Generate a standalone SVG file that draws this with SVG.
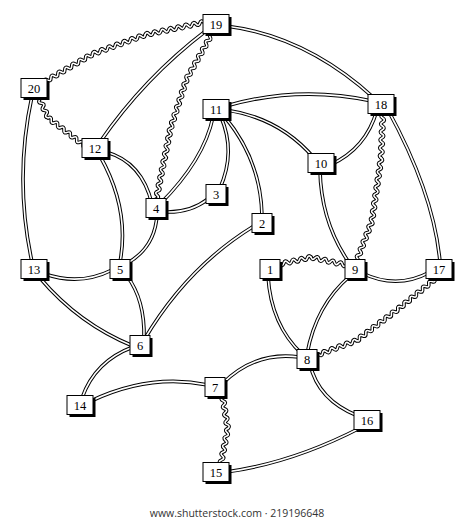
<svg xmlns="http://www.w3.org/2000/svg" xmlns:xlink="http://www.w3.org/1999/xlink" width="474" height="522" viewBox="0 0 474 522">
<style>
.o{fill:none;stroke:#000;stroke-width:3.6}
.i{fill:none;stroke:#fff;stroke-width:1.6}
.w .o,.w .i{stroke-linecap:round}
.sh{fill:#000}
.bx{fill:#fff;stroke:#000;stroke-width:1}
.lb{font-family:"Liberation Serif","DejaVu Serif",serif;font-size:12.5px;text-anchor:middle;fill:#000}
.ft{font-family:"Open Sans","Liberation Sans",sans-serif;font-size:10.5px;text-anchor:middle;fill:#333}
</style>
<defs>
<path id="e19_12" d="M207,30 Q144,78 100,142"/>
<path id="e19_18" d="M226,26 Q306,36 374,98"/>
<path id="e20_13" d="M32,96 Q14,179 32,262"/>
<path id="e12_4" d="M106,152 Q142,162 152,204"/>
<path id="e12_5" d="M100,156 Q130,209 120,262"/>
<path id="e11_4" d="M213,117 Q204,160 160,204"/>
<path id="e11_3" d="M221,117 Q236,152 220,188"/>
<path id="e11_2" d="M224,116 Q261,160 262,216"/>
<path id="e11_18" d="M226,106 Q299,85 372,101"/>
<path id="e11_10" d="M226,110 Q280,118 314,158"/>
<path id="e18_10" d="M377,110 Q366,149 330,165"/>
<path id="e18_17" d="M388,110 Q434,194 440,262"/>
<path id="e10_9" d="M320,170 Q321,223 350,264"/>
<path id="e4_3" d="M165,212 Q190,213 208,199"/>
<path id="e4_5" d="M157,215 Q155,248 126,264"/>
<path id="e13_5" d="M45,274 Q80,286 112,270"/>
<path id="e13_6" d="M40,278 Q79,324 133,346"/>
<path id="e5_6" d="M127,276 Q145,300 144,338"/>
<path id="e2_6" d="M254,226 Q187,267 144,340"/>
<path id="e6_14" d="M133,347 Q95,361 82,398"/>
<path id="e1_8" d="M268,276 Q271,325 302,354"/>
<path id="e9_8" d="M350,276 Q316,305 307,354"/>
<path id="e9_17" d="M362,273 Q397,290 430,272"/>
<path id="e8_7" d="M299,357 Q255,351 222,384"/>
<path id="e14_7" d="M91,401 Q150,373 208,385"/>
<path id="e8_16" d="M310,364 Q318,400 358,416"/>
<path id="e15_16" d="M226,472 Q292,463 360,428"/>
<g id="w20_19">
<path transform="translate(44,82) rotate(-30)" d="M0,0q2,-3.5 4,0t4,0t4,0t4,0t4,0t4,0t4,0t4,0t4,0t4,0t4,0t4,0t4,0t4,0"/>
<path transform="translate(92.5,54) rotate(-20)" d="M0,0q2,-3.5 4,0t4,0t4,0t4,0t4,0t4,0t4,0t4,0t4,0t4,0t4,0t4,0t4,0t4,0"/>
<path transform="translate(145.1,34.8) rotate(-12)" d="M0,0q2,-3.5 4,0t4,0t4,0t4,0t4,0t4,0t4,0t4,0t4,0t4,0t4,0t4,0t4,0t4,0t4,0t4,0"/>
</g>
<g id="w19_4">
<path transform="translate(214,30) rotate(119.25)" d="M0,0q2,-3.5 4,0t4,0t4,0t4,0t4,0t4,0t4,0t4,0t4,0t4,0t4,0t4,0t4,0t4,0"/>
<path transform="translate(186.6,78.9) rotate(108)" d="M0,0q2,-3.5 4,0t4,0t4,0t4,0t4,0t4,0t4,0t4,0t4,0t4,0t4,0t4,0t4,0"/>
<path transform="translate(170.5,128.4) rotate(101.4)" d="M0,0q2,3.5 4,0t4,0t4,0t4,0t4,0t4,0t4,0t4,0t4,0t4,0t4,0t4,0t4,0t4,0t4,0t4,0t4,0t4,0t4,0t4,0"/>
</g>
<g id="w20_12">
<path transform="translate(38,96) rotate(65)" d="M0,0q2,-3.5 4,0t4,0t4,0t4,0t4,0t4,0"/>
<path transform="translate(48.1,117.8) rotate(37.4)" d="M0,0q2,-3.5 4,0t4,0t4,0t4,0t4,0t4,0t4,0t4,0t4,0t4,0t4,0t4,0"/>
</g>
<g id="w18_9">
<path transform="translate(383,110) rotate(92.3)" d="M0,0q2,-3.5 4,0t4,0t4,0t4,0t4,0t4,0t4,0t4,0t4,0t4,0t4,0t4,0"/>
<path transform="translate(381.1,158) rotate(98.3)" d="M0,0q2,-3.5 4,0t4,0t4,0t4,0t4,0t4,0t4,0t4,0t4,0t4,0t4,0t4,0t4,0t4,0t4,0t4,0"/>
<path transform="translate(371.9,221.3) rotate(111.1)" d="M0,0q2,-3.5 4,0t4,0t4,0t4,0t4,0t4,0t4,0t4,0t4,0t4,0t4,0t4,0"/>
</g>
<g id="w1_9">
<path transform="translate(276,265) rotate(-12.5)" d="M0,0q2,-3.5 4,0t4,0t4,0t4,0t4,0t4,0t4,0t4,0t4,0"/>
<path transform="translate(311.1,257.2) rotate(12.7)" d="M0,0q2,3.5 4,0t4,0t4,0t4,0t4,0t4,0t4,0t4,0t4,0t4,0"/>
</g>
<g id="w17_8">
<path transform="translate(435,279) rotate(140.8)" d="M0,0q2,-3.5 4,0t4,0t4,0t4,0t4,0t4,0t4,0t4,0t4,0t4,0t4,0t4,0"/>
<path transform="translate(397.8,309.3) rotate(143)" d="M0,0q2,-3.5 4,0t4,0t4,0t4,0t4,0t4,0t4,0t4,0t4,0t4,0t4,0t4,0t4,0"/>
<path transform="translate(356.3,340.6) rotate(159.7)" d="M0,0q2,3.5 4,0t4,0t4,0t4,0t4,0t4,0t4,0t4,0t4,0t4,0t4,0t4,0"/>
</g>
<g id="w7_15">
<path transform="translate(222,393) rotate(80.8)" d="M0,0q2,-3.5 4,0t4,0t4,0t4,0t4,0t4,0t4,0t4,0t4,0"/>
<path transform="translate(227.8,428.5) rotate(101.2)" d="M0,0q2,3.5 4,0t4,0t4,0t4,0t4,0t4,0t4,0t4,0t4,0t4,0"/>
</g>
</defs>
<rect width="474" height="522" fill="#fff"/>
<g id="edges">
<g><use href="#e19_12" class="o"/><use href="#e19_12" class="i"/></g>
<g><use href="#e19_18" class="o"/><use href="#e19_18" class="i"/></g>
<g><use href="#e20_13" class="o"/><use href="#e20_13" class="i"/></g>
<g><use href="#e12_4" class="o"/><use href="#e12_4" class="i"/></g>
<g><use href="#e12_5" class="o"/><use href="#e12_5" class="i"/></g>
<g><use href="#e11_4" class="o"/><use href="#e11_4" class="i"/></g>
<g><use href="#e11_3" class="o"/><use href="#e11_3" class="i"/></g>
<g><use href="#e11_2" class="o"/><use href="#e11_2" class="i"/></g>
<g><use href="#e11_18" class="o"/><use href="#e11_18" class="i"/></g>
<g><use href="#e11_10" class="o"/><use href="#e11_10" class="i"/></g>
<g><use href="#e18_10" class="o"/><use href="#e18_10" class="i"/></g>
<g><use href="#e18_17" class="o"/><use href="#e18_17" class="i"/></g>
<g><use href="#e10_9" class="o"/><use href="#e10_9" class="i"/></g>
<g><use href="#e4_3" class="o"/><use href="#e4_3" class="i"/></g>
<g><use href="#e4_5" class="o"/><use href="#e4_5" class="i"/></g>
<g><use href="#e13_5" class="o"/><use href="#e13_5" class="i"/></g>
<g><use href="#e13_6" class="o"/><use href="#e13_6" class="i"/></g>
<g><use href="#e5_6" class="o"/><use href="#e5_6" class="i"/></g>
<g><use href="#e2_6" class="o"/><use href="#e2_6" class="i"/></g>
<g><use href="#e6_14" class="o"/><use href="#e6_14" class="i"/></g>
<g><use href="#e1_8" class="o"/><use href="#e1_8" class="i"/></g>
<g><use href="#e9_8" class="o"/><use href="#e9_8" class="i"/></g>
<g><use href="#e9_17" class="o"/><use href="#e9_17" class="i"/></g>
<g><use href="#e8_7" class="o"/><use href="#e8_7" class="i"/></g>
<g><use href="#e14_7" class="o"/><use href="#e14_7" class="i"/></g>
<g><use href="#e8_16" class="o"/><use href="#e8_16" class="i"/></g>
<g><use href="#e15_16" class="o"/><use href="#e15_16" class="i"/></g>
<g class="w"><use href="#w20_19" class="o"/><use href="#w20_19" class="i"/></g>
<g class="w"><use href="#w19_4" class="o"/><use href="#w19_4" class="i"/></g>
<g class="w"><use href="#w20_12" class="o"/><use href="#w20_12" class="i"/></g>
<g class="w"><use href="#w18_9" class="o"/><use href="#w18_9" class="i"/></g>
<g class="w"><use href="#w1_9" class="o"/><use href="#w1_9" class="i"/></g>
<g class="w"><use href="#w17_8" class="o"/><use href="#w17_8" class="i"/></g>
<g class="w"><use href="#w7_15" class="o"/><use href="#w7_15" class="i"/></g>
</g>
<g id="n19"><rect class="sh" x="205.5" y="17" width="26" height="19"/><rect class="bx" x="203" y="14.5" width="26" height="19"/><text class="lb" x="216" y="28.5">19</text></g>
<g id="n20"><rect class="sh" x="23.5" y="81" width="26" height="19"/><rect class="bx" x="21" y="78.5" width="26" height="19"/><text class="lb" x="34" y="92.5">20</text></g>
<g id="n12"><rect class="sh" x="84.5" y="141" width="26" height="19"/><rect class="bx" x="82" y="138.5" width="26" height="19"/><text class="lb" x="95" y="152.5">12</text></g>
<g id="n11"><rect class="sh" x="205.5" y="102" width="26" height="19"/><rect class="bx" x="203" y="99.5" width="26" height="19"/><text class="lb" x="216" y="113.5">11</text></g>
<g id="n18"><rect class="sh" x="370.5" y="97" width="26" height="19"/><rect class="bx" x="368" y="94.5" width="26" height="19"/><text class="lb" x="381" y="108.5">18</text></g>
<g id="n10"><rect class="sh" x="310.5" y="156" width="26" height="19"/><rect class="bx" x="308" y="153.5" width="26" height="19"/><text class="lb" x="321" y="167.5">10</text></g>
<g id="n4"><rect class="sh" x="148.5" y="201" width="20" height="19"/><rect class="bx" x="146" y="198.5" width="20" height="19"/><text class="lb" x="156" y="212.5">4</text></g>
<g id="n3"><rect class="sh" x="208.5" y="187" width="20" height="19"/><rect class="bx" x="206" y="184.5" width="20" height="19"/><text class="lb" x="216" y="198.5">3</text></g>
<g id="n13"><rect class="sh" x="23.5" y="262" width="26" height="19"/><rect class="bx" x="21" y="259.5" width="26" height="19"/><text class="lb" x="34" y="273.5">13</text></g>
<g id="n5"><rect class="sh" x="112.5" y="262" width="20" height="19"/><rect class="bx" x="110" y="259.5" width="20" height="19"/><text class="lb" x="120" y="273.5">5</text></g>
<g id="n6"><rect class="sh" x="132.5" y="338" width="20" height="19"/><rect class="bx" x="130" y="335.5" width="20" height="19"/><text class="lb" x="140" y="349.5">6</text></g>
<g id="n2"><rect class="sh" x="254.5" y="216" width="20" height="19"/><rect class="bx" x="252" y="213.5" width="20" height="19"/><text class="lb" x="262" y="227.5">2</text></g>
<g id="n1"><rect class="sh" x="262.5" y="262" width="20" height="19"/><rect class="bx" x="260" y="259.5" width="20" height="19"/><text class="lb" x="270" y="273.5">1</text></g>
<g id="n9"><rect class="sh" x="347.5" y="262" width="20" height="19"/><rect class="bx" x="345" y="259.5" width="20" height="19"/><text class="lb" x="355" y="273.5">9</text></g>
<g id="n17"><rect class="sh" x="428.5" y="262" width="26" height="19"/><rect class="bx" x="426" y="259.5" width="26" height="19"/><text class="lb" x="439" y="273.5">17</text></g>
<g id="n8"><rect class="sh" x="299.5" y="352" width="20" height="19"/><rect class="bx" x="297" y="349.5" width="20" height="19"/><text class="lb" x="307" y="363.5">8</text></g>
<g id="n7"><rect class="sh" x="207.5" y="380" width="20" height="19"/><rect class="bx" x="205" y="377.5" width="20" height="19"/><text class="lb" x="215" y="391.5">7</text></g>
<g id="n14"><rect class="sh" x="69.5" y="398" width="26" height="19"/><rect class="bx" x="67" y="395.5" width="26" height="19"/><text class="lb" x="80" y="409.5">14</text></g>
<g id="n16"><rect class="sh" x="356.5" y="413" width="26" height="19"/><rect class="bx" x="354" y="410.5" width="26" height="19"/><text class="lb" x="367" y="424.5">16</text></g>
<g id="n15"><rect class="sh" x="205.5" y="465" width="26" height="19"/><rect class="bx" x="203" y="462.5" width="26" height="19"/><text class="lb" x="216" y="476.5">15</text></g>
<text class="ft" x="237" y="517">www.shutterstock.com · 219196648</text>
</svg>
